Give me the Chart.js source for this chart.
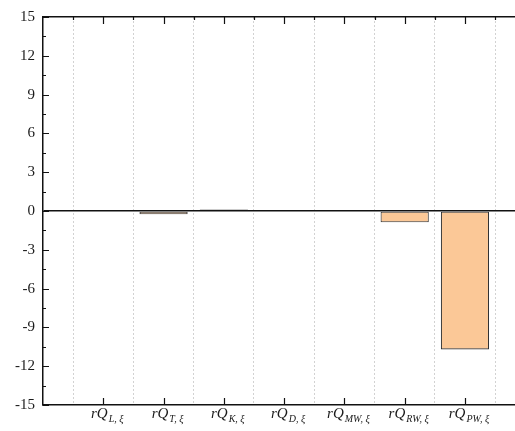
<!DOCTYPE html>
<html>
<head>
<meta charset="utf-8">
<script src="https://cdn.jsdelivr.net/npm/chart.js@4/dist/chart.umd.min.js"></script>
<style>
  html, body { margin: 0; padding: 0; background: #fff; }
  #wrap { width: 515px; height: 431px; }
</style>
</head>
<body>
<div id="wrap"><canvas id="chart"></canvas></div>
<script>
// subscripts of the rQ terms, one bar each
const categories = ['L', 'T', 'K', 'D', 'MW', 'RW', 'PW'];
const values = [0, -0.26, 0.12, 0, 0, -0.87, -10.7];
const yTicks = [-15, -12, -9, -6, -3, 0, 3, 6, 9, 12, 15];

const X_MAX = 7.83;
const serif = '"Liberation Serif", "Times New Roman", serif';

// bars sit at 1..7, dashed separators at the half steps
const barX = categories.map((c, i) => i + 1);
const gridX = [0.5, 1.5, 2.5, 3.5, 4.5, 5.5, 6.5, 7.5];

// inward tick marks and the subscripted category labels
const axisDecor = {
    id: 'axisDecor',
    afterDraw(chart) {
        const { ctx, chartArea: a, scales: { x, y } } = chart;
        ctx.save();
        ctx.strokeStyle = '#111';
        ctx.lineWidth = 1.2;
        ctx.beginPath();
        // y: major every 3, minor every 1.5
        for (let v = -15; v <= 15; v += 1.5) {
            const py = Math.round(y.getPixelForValue(v)) + 0.5;
            const len = (v % 3 === 0) ? 6 : 3;
            ctx.moveTo(a.left, py);
            ctx.lineTo(a.left + len, py);
        }
        barX.forEach(v => {
            const px = Math.round(x.getPixelForValue(v)) + 0.5;
            ctx.moveTo(px, a.bottom);
            ctx.lineTo(px, a.bottom - 7);
            ctx.moveTo(px, a.top);
            ctx.lineTo(px, a.top + 7);
        });
        gridX.forEach(v => {
            const px = Math.round(x.getPixelForValue(v)) + 0.5;
            ctx.moveTo(px, a.top);
            ctx.lineTo(px, a.top + 3);
        });
        ctx.stroke();

        // rQ with italic subscript
        ctx.fillStyle = '#1a1a1a';
        ctx.textBaseline = 'alphabetic';
        ctx.textAlign = 'left';
        const mainFont = 'italic 15px ' + serif;
        const subFont = 'italic 10px ' + serif;
        categories.forEach((c, i) => {
            const main = 'rQ';
            const sub = c + ', \u03be';
            ctx.font = mainFont;
            const wMain = ctx.measureText(main).width;
            ctx.font = subFont;
            const wSub = ctx.measureText(sub).width;
            const cx = x.getPixelForValue(barX[i]) + 4;
            const left = cx - (wMain + wSub + 1) / 2;
            const base = a.bottom + 13;
            ctx.font = mainFont;
            ctx.fillText(main, left, base);
            ctx.font = subFont;
            ctx.fillText(sub, left + wMain + 1, base + 4);
        });
        ctx.restore();
    }
};

new Chart(document.getElementById('chart'), {
    type: 'bar',
    data: {
        datasets: [{
            data: categories.map((c, i) => ({ x: barX[i], y: values[i] })),
            backgroundColor: '#fbc897',
            borderColor: '#333',
            borderWidth: 1.1,
            borderSkipped: false,
            barPercentage: 0.8,
            categoryPercentage: 1,
            xAxisID: 'x',
            yAxisID: 'y'
        }]
    },
    options: {
        responsive: true,
        maintainAspectRatio: false,
        animation: false,
        layout: { padding: { top: 17, right: 0, bottom: 0, left: 0 } },
        plugins: { legend: { display: false }, tooltip: { enabled: false } },
        scales: {
            x: {
                type: 'linear',
                position: 'bottom',
                offset: false,
                min: 0,
                max: X_MAX,
                afterBuildTicks: s => { s.ticks = gridX.map(v => ({ value: v })); },
                afterFit: s => { s.height = 26; },
                ticks: { display: false },
                grid: { offset: false, color: '#d2d2d2', lineWidth: 1, drawTicks: false },
                border: { display: true, color: '#111', width: 1.5, dash: [2, 2] }
            },
            x2: {
                type: 'linear',
                position: 'top',
                offset: false,
                min: 0,
                max: X_MAX,
                afterFit: s => { s.height = 0; },
                ticks: { display: false },
                grid: { display: false, offset: false, drawTicks: false },
                border: { display: true, color: '#111', width: 1.5 }
            },
            y: {
                min: -15,
                max: 15,
                afterBuildTicks: s => { s.ticks = yTicks.map(v => ({ value: v })); },
                afterFit: s => { s.width = 43; },
                ticks: {
                    padding: 8,
                    color: '#1a1a1a',
                    font: { family: serif, size: 15 }
                },
                grid: {
                    drawTicks: false,
                    lineWidth: 1.5,
                    color: c => (c.tick && c.tick.value === 0) ? '#111' : 'rgba(0,0,0,0)'
                },
                border: { display: true, color: '#111', width: 1.5 }
            }
        }
    },
    plugins: [axisDecor]
});
</script>
</body>
</html>
